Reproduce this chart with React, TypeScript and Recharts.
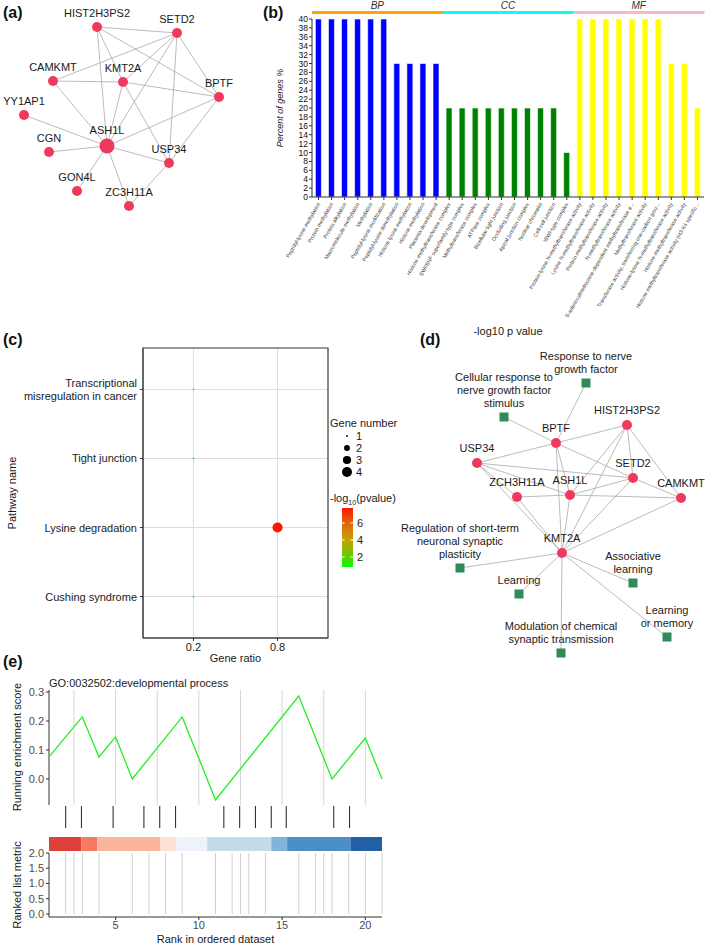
import React from "react";
import {
  BarChart,
  Bar,
  XAxis,
  YAxis,
  Cell,
  ScatterChart,
  Scatter,
  CartesianGrid,
  ReferenceArea,
  Label,
} from "recharts";

const FONT = "Arial, 'Liberation Sans', Helvetica, sans-serif";
const EDGE = "#aaaaaa";
const GENE_RED = "#ef3a5d";
const TERM_GREEN = "#2f8b5a";

// ---------- (a) PPI network (layout coordinates) ----------
const ppiNames = ["HIST2H3PS2", "SETD2", "CAMKMT", "KMT2A", "BPTF", "YY1AP1", "ASH1L", "CGN", "USP34", "GON4L", "ZC3H11A"];
const ppiX = [97, 177, 53, 123, 219, 24, 107, 49, 169, 77, 129];
const ppiY = [27, 33, 81, 82, 97, 115, 146, 152, 163, 191, 206];
const ppiEdges: [string, string][] = [
  ["HIST2H3PS2", "SETD2"], ["HIST2H3PS2", "KMT2A"], ["HIST2H3PS2", "ASH1L"], ["HIST2H3PS2", "BPTF"],
  ["CAMKMT", "SETD2"], ["CAMKMT", "KMT2A"], ["CAMKMT", "ASH1L"], ["KMT2A", "BPTF"],
  ["SETD2", "KMT2A"], ["SETD2", "ASH1L"], ["SETD2", "USP34"], ["SETD2", "BPTF"],
  ["KMT2A", "ASH1L"], ["KMT2A", "USP34"], ["BPTF", "ASH1L"], ["BPTF", "USP34"],
  ["ASH1L", "YY1AP1"], ["ASH1L", "CGN"], ["ASH1L", "GON4L"], ["ASH1L", "ZC3H11A"],
  ["ASH1L", "USP34"], ["USP34", "ZC3H11A"],
];

// ---------- (b) GO enrichment bars ----------
const bpTerms = [
  "Peptidyl-lysine methylation", "Protein methylation", "Protein alkylation", "Macromolecule methylation",
  "Methylation", "Peptidyl-lysine modification", "Peptidyl-lysine dimethylation", "Histone lysine methylation",
  "Histone methylation", "Placenta development",
];
const ccTerms = [
  "Histone methyltransferase complex", "SWI/SNF superfamily-type complex", "Methyltransferase complex",
  "ATPase complex", "Bicellular tight junction", "Occluding junction", "Apical junction complex",
  "Nuclear chromatin", "Cell-cell junction", "ISWI-type complex",
];
const mfTerms = [
  "Protein-lysine N-methyltransferase activity", "Lysine N-methyltransferase activity",
  "Protein methyltransferase activity", "N-methyltransferase activity",
  "S-adenosylmethionine-dependent methyltransferase a...", "Methyltransferase activity",
  "Transferase activity, transferring one-carbon grou...", "Histone-lysine N-methyltransferase activity",
  "Histone methyltransferase activity", "Histone methyltransferase activity (H3-K4 specific...",
];
const bpPercent = [40, 40, 40, 40, 40, 40, 30, 30, 30, 30];
const ccPercent = [20, 20, 20, 20, 20, 20, 20, 20, 20, 10];
const mfPercent = [40, 40, 40, 40, 40, 40, 40, 30, 30, 20];
const pctTicks = [0, 2, 4, 6, 8, 10, 12, 14, 16, 18, 20, 22, 24, 26, 28, 30, 32, 34, 36, 38, 40];

// ---------- (c) KEGG dot plot ----------
const keggPathways = ["Transcriptional\nmisregulation in cancer", "Tight junction", "Lysine degradation", "Cushing syndrome"];
const ratioLevels = ["0.2", "0.8"];
const keggRatio = ["0.2", "0.2", "0.8", "0.2"];
const keggCount = [1, 1, 4, 1];
const keggLogP = [0.85, 0.82, 7.76, 0.9];
const countLegend = [1, 2, 3, 4];
const logPTicks = [2, 4, 6];

// ---------- (d) gene - GO term network (layout coordinates) ----------
const netNames = [
  "resp", "cell", "HIST2H3PS2", "BPTF", "USP34", "SETD2", "ASH1L", "ZCH3H11A", "CAMKMT", "KMT2A",
  "reg", "assoc", "learn", "lom", "mod",
];
const netLabels = [
  "Response to nerve\ngrowth factor", "Cellular response to\nnerve growth factor\nstimulus", "HIST2H3PS2", "BPTF",
  "USP34", "SETD2", "ASH1L", "ZCH3H11A", "CAMKMT", "KMT2A",
  "Regulation of short-term\nneuronal synaptic\nplasticity", "Associative\nlearning", "Learning",
  "Learning\nor memory", "Modulation of chemical\nsynaptic transmission",
];
const netKind = ["term", "term", "gene", "gene", "gene", "gene", "gene", "gene", "gene", "gene", "term", "term", "term", "term", "term"];
const netX = [586, 504, 627, 556, 477, 633, 570, 517, 681, 562, 460, 633, 519, 667, 561];
const netY = [383, 417, 425, 443, 463, 478, 495, 497, 498, 553, 568, 583, 594, 637, 653];
const netEdges: [string, string][] = [
  ["resp", "BPTF"], ["cell", "BPTF"], ["BPTF", "HIST2H3PS2"], ["BPTF", "USP34"], ["BPTF", "SETD2"],
  ["BPTF", "ASH1L"], ["BPTF", "KMT2A"], ["HIST2H3PS2", "SETD2"], ["HIST2H3PS2", "CAMKMT"],
  ["HIST2H3PS2", "ASH1L"], ["HIST2H3PS2", "KMT2A"], ["USP34", "SETD2"], ["USP34", "ASH1L"],
  ["USP34", "ZCH3H11A"], ["USP34", "KMT2A"], ["SETD2", "ASH1L"], ["SETD2", "CAMKMT"], ["SETD2", "KMT2A"],
  ["ZCH3H11A", "ASH1L"], ["ASH1L", "CAMKMT"], ["ZCH3H11A", "KMT2A"], ["ASH1L", "KMT2A"], ["CAMKMT", "KMT2A"],
  ["KMT2A", "reg"], ["KMT2A", "learn"], ["KMT2A", "assoc"], ["KMT2A", "lom"], ["KMT2A", "mod"],
];

// ---------- (e) GSEA plot ----------
const esRank = [1, 3, 4, 5, 6, 9, 11, 16, 18, 20, 21];
const esScore = [0.076, 0.214, 0.076, 0.145, 0.0, 0.214, -0.072, 0.286, 0.0, 0.141, 0.0];
const esTicks = [0, 0.1, 0.2, 0.3];
const rankGrid = [2.5, 5, 7.5, 10, 12.5, 15, 17.5, 20];
const hitRanks = [2, 2.95, 4.85, 6.7, 7.65, 8.6, 11.5, 12.45, 13.4, 14.35, 15.25, 18.1, 19.05];
const heatBreaks = [1, 2.94, 3.9, 7.7, 8.65, 10.5, 14.35, 15.3, 19.1, 21];
const heatColors = ["#e0403a", "#f57a60", "#fcb59d", "#fde1d4", "#eef3fb", "#c4dbea", "#80b5d9", "#4a8fc5", "#2460a6"];
const metricRanks = [2, 2.5, 3, 4, 6, 7, 8, 9, 11, 12, 12.5, 13, 14, 16, 17, 17.5, 18, 19, 20, 21];
const metricValues = [2, 2, 2, 2, 2, 2, 2, 2, 2, 2, 2, 2, 2, 2, 2, 2, 2, 2, 2, 2];
const metricTicks = [0, 0.5, 1, 1.5, 2];
const rankTicks = [5, 10, 15, 20];

// ---------- derived tables ----------
const ppiDegree = (n: string) => ppiEdges.filter((e) => e[0] === n || e[1] === n).length;
const ppiNodes = ppiNames.map((n, i) => ({ name: n, label: n, kind: "gene", x: ppiX[i], y: ppiY[i], r: ppiDegree(n) >= 8 ? 7.5 : 5 }));
const netNodes = netNames.map((n, i) => ({ name: n, label: netLabels[i], kind: netKind[i], x: netX[i], y: netY[i], r: 5 }));

const goRows = [
  ...bpTerms.map((t, i) => ({ term: t, group: "BP", pct: bpPercent[i], mid: i === 4 })),
  ...ccTerms.map((t, i) => ({ term: t, group: "CC", pct: ccPercent[i], mid: i === 4 })),
  ...mfTerms.map((t, i) => ({ term: t, group: "MF", pct: mfPercent[i], mid: i === 4 })),
];
const barColor: Record<string, string> = { BP: "#0000ff", CC: "#008000", MF: "#ffff00" };
const stripColor: Record<string, string> = { BP: "#ffa500", CC: "#00ffff", MF: "#ffb6c1" };

const LP_MIN = Math.min(...keggLogP);
const LP_MAX = Math.max(...keggLogP);
const pStops: [number, number[]][] = [
  [0, [0, 255, 0]],
  [0.2, [110, 200, 0]],
  [0.47, [200, 160, 0]],
  [0.75, [228, 100, 10]],
  [1, [255, 20, 0]],
];
function lpColor(v: number) {
  const t = Math.max(0, Math.min(1, (v - LP_MIN) / (LP_MAX - LP_MIN)));
  for (let i = 1; i < pStops.length; i++) {
    if (t <= pStops[i][0]) {
      const [t0, c0] = pStops[i - 1];
      const [t1, c1] = pStops[i];
      const f = (t - t0) / (t1 - t0);
      const c = c0.map((a, k) => Math.round(a + (c1[k] - a) * f));
      return `rgb(${c[0]},${c[1]},${c[2]})`;
    }
  }
  return "rgb(255,20,0)";
}
const countR = (n: number) => 5 * Math.sqrt((n - 0.9) / 3.1);

const keggRows = keggPathways.map((p, i) => ({
  name: p,
  x: ratioLevels.indexOf(keggRatio[i]) + 1,
  y: i + 1,
  n: keggCount[i],
  lp: keggLogP[i],
}));

const ES_DOMAIN = [-0.0897, 0.3069];
const esPoints = esRank.map((r, i) => ({ x: r, y: esScore[i] }));

// ---------- shapes / ticks ----------
const emptyShape = () => <g />;

const makeNodeShape = (gap: number) => (props: any) => {
  const { cx, cy, payload } = props;
  const lines = String(payload.label).split("\n");
  const base = payload.kind === "term" ? cy - 10 : cy - payload.r - gap;
  return (
    <g>
      {payload.kind === "term" ? (
        <rect x={cx - 4.5} y={cy - 4.5} width={9} height={9} fill={TERM_GREEN} />
      ) : (
        <circle cx={cx} cy={cy} r={payload.r} fill={GENE_RED} />
      )}
      <text x={cx} y={base} textAnchor="middle" fontSize={11} fill="#1a1a1a">
        {lines.map((l, i) => (
          <tspan key={i} x={cx} y={base - (lines.length - 1 - i) * 13}>
            {l}
          </tspan>
        ))}
      </text>
    </g>
  );
};

// a two-point scatter drawn only as its connecting line
const seg = (key: any, pts: { x: number; y: number }[], stroke: string, width: number) => (
  <Scatter
    key={key}
    data={pts}
    line={{ stroke, strokeWidth: width, strokeLinecap: "butt" }}
    shape={emptyShape}
    isAnimationActive={false}
    legendType="none"
  />
);

function Network({ nodes, edges, x0, y0, w, h, gap }: any) {
  const byName: Record<string, any> = {};
  nodes.forEach((n: any) => (byName[n.name] = n));
  return (
    <ScatterChart width={w} height={h} margin={{ top: 0, right: 0, bottom: 0, left: 0 }}>
      <XAxis type="number" dataKey="x" domain={[x0, x0 + w]} hide />
      <YAxis type="number" dataKey="y" domain={[y0, y0 + h]} reversed hide />
      {edges.map(([a, b]: [string, string], i: number) => seg(i, [byName[a], byName[b]], EDGE, 0.8))}
      <Scatter data={nodes} shape={makeNodeShape(gap)} isAnimationActive={false} />
    </ScatterChart>
  );
}

const B_W = 439;
const B_YAXIS = 42;
const B_RIGHT = 5;
const B_BAND = (B_W - B_YAXIS - B_RIGHT) / goRows.length;

const StripTick = (props: any) => {
  const { x, y, payload } = props;
  const row = goRows.find((r) => r.term === payload.value);
  if (!row) return <g />;
  return (
    <g>
      <rect x={x - B_BAND / 2} y={y - 8} width={B_BAND + 0.5} height={3} fill={stripColor[row.group]} />
      {row.mid && (
        <text x={x + B_BAND / 2} y={y - 10} textAnchor="middle" fontSize={10} fontStyle="italic" fill="#333">
          {row.group}
        </text>
      )}
    </g>
  );
};

const GoTick = (props: any) => {
  const { x, y, payload } = props;
  return (
    <text x={x} y={y + 1} transform={`rotate(-60 ${x} ${y + 1})`} textAnchor="end" fontSize={5.3} fill="#333" dy={2}>
      {payload.value}
    </text>
  );
};

const PathwayTick = (props: any) => {
  const { x, y, payload } = props;
  const lines = keggPathways[payload.value - 1].split("\n");
  const first = y + 4 - ((lines.length - 1) * 13) / 2;
  return (
    <text x={x} y={first} textAnchor="end" fontSize={11} fill="#1a1a1a">
      {lines.map((l, i) => (
        <tspan key={i} x={x} y={first + i * 13}>
          {l}
        </tspan>
      ))}
    </text>
  );
};

const KeggDot = (props: any) => {
  const { cx, cy, payload } = props;
  return <circle cx={cx} cy={cy} r={countR(payload.n)} fill={lpColor(payload.lp)} />;
};

const axisTick = { fontSize: 11, fill: "#4d4d4d" };

export default function App() {
  const cbTop = 508;
  const cbH = 59;
  const cbY = (v: number) => cbTop + cbH - ((v - LP_MIN) / (LP_MAX - LP_MIN)) * cbH;
  return (
    <div
      style={{
        position: "absolute",
        left: 0,
        top: 0,
        width: 709,
        height: 945,
        background: "#fff",
        fontFamily: FONT,
        overflow: "hidden",
      }}
    >
      {/* (a) */}
      <div style={{ position: "absolute", left: 0, top: 0 }}>
        <Network nodes={ppiNodes} edges={ppiEdges} x0={0} y0={0} w={270} h={220} gap={5} />
      </div>

      {/* (b) */}
      <div style={{ position: "absolute", left: 270, top: 0 }}>
        <BarChart
          width={B_W}
          height={322}
          data={goRows}
          margin={{ top: 0, right: B_RIGHT, bottom: 0, left: 0 }}
          barCategoryGap="26%"
        >
          <XAxis
            xAxisId="strip"
            orientation="top"
            dataKey="term"
            height={19}
            interval={0}
            axisLine={false}
            tickLine={false}
            tickSize={0}
            tickMargin={0}
            tick={<StripTick />}
          />
          <XAxis
            dataKey="term"
            interval={0}
            height={125}
            tick={<GoTick />}
            tickSize={3}
            tickLine={{ stroke: "#333" }}
            axisLine={{ stroke: "#333" }}
          />
          <YAxis
            domain={[0, 40]}
            ticks={pctTicks}
            interval={0}
            width={B_YAXIS}
            tickSize={3}
            tickMargin={1}
            tick={{ fontSize: 8.5, fill: "#111" }}
            tickLine={{ stroke: "#333" }}
            axisLine={{ stroke: "#333" }}
          >
            <Label
              value="Percent of genes %"
              angle={-90}
              position="insideLeft"
              offset={10}
              style={{ textAnchor: "middle", fontStyle: "italic", fontSize: 9, fill: "#222" }}
            />
          </YAxis>
          <YAxis yAxisId="frame" orientation="right" width={0} tick={false} tickLine={false} axisLine={{ stroke: "#333" }} />
          <Bar dataKey="pct" isAnimationActive={false} stroke="#ffffff" strokeWidth={0.6}>
            {goRows.map((r, i) => (
              <Cell key={i} fill={barColor[r.group]} />
            ))}
          </Bar>
        </BarChart>
      </div>

      {/* (c) */}
      <div style={{ position: "absolute", left: 0, top: 340 }}>
        <ScatterChart width={330} height={330} margin={{ top: 8, right: 2, bottom: 0, left: 0 }}>
          <CartesianGrid stroke="#dcdcdc" />
          <XAxis
            type="number"
            dataKey="x"
            domain={[0.4, 2.6]}
            ticks={[1, 2]}
            tickFormatter={(v: number) => ratioLevels[v - 1]}
            height={32}
            tickSize={3}
            tickMargin={2}
            tick={{ fontSize: 11, fill: "#1a1a1a" }}
            tickLine={{ stroke: "#333" }}
            axisLine={{ stroke: "#444" }}
          >
            <Label value="Gene ratio" position="insideBottom" offset={8} style={{ fontSize: 11, fill: "#1a1a1a" }} />
          </XAxis>
          <YAxis
            type="number"
            dataKey="y"
            domain={[0.4, 4.6]}
            ticks={[1, 2, 3, 4]}
            reversed
            width={143}
            tickSize={3}
            tickMargin={3}
            tick={<PathwayTick />}
            tickLine={{ stroke: "#333" }}
            axisLine={{ stroke: "#444" }}
          >
            <Label
              value="Pathway name"
              angle={-90}
              position="insideLeft"
              offset={12}
              style={{ textAnchor: "middle", fontSize: 11, fill: "#1a1a1a" }}
            />
          </YAxis>
          <ReferenceArea x1={0.4} x2={2.6} y1={0.4} y2={4.6} fill="none" stroke="#444" strokeWidth={1.2} />
          <Scatter data={keggRows} shape={KeggDot} isAnimationActive={false} />
        </ScatterChart>
      </div>

      {/* (d) */}
      <div style={{ position: "absolute", left: 370, top: 330 }}>
        <Network nodes={netNodes} edges={netEdges} x0={370} y0={330} w={339} h={340} gap={6} />
      </div>

      {/* (e) running enrichment score */}
      <div style={{ position: "absolute", left: 0, top: 680 }}>
        <ScatterChart width={390} height={125} margin={{ top: 10, right: 8, bottom: 0, left: 0 }}>
          <XAxis type="number" dataKey="x" domain={[1, 21]} hide />
          <YAxis
            type="number"
            dataKey="y"
            domain={ES_DOMAIN}
            ticks={esTicks}
            interval={0}
            width={49}
            tickSize={3}
            tickMargin={2}
            tickFormatter={(v: number) => v.toFixed(1)}
            tick={axisTick}
            tickLine={{ stroke: "#333" }}
            axisLine={{ stroke: "#333" }}
          />
          {rankGrid.map((r, i) =>
            seg(`g${i}`, [{ x: r, y: ES_DOMAIN[0] }, { x: r, y: ES_DOMAIN[1] }], "#d6d6d6", 1)
          )}
          <Scatter
            data={esPoints}
            line={{ stroke: "#22ee22", strokeWidth: 1.3 }}
            shape={emptyShape}
            isAnimationActive={false}
          />
        </ScatterChart>
      </div>

      {/* (e) hits + rank heat strip */}
      <div style={{ position: "absolute", left: 0, top: 806 }}>
        <ScatterChart width={390} height={45} margin={{ top: 0, right: 8, bottom: 0, left: 49 }}>
          <XAxis type="number" dataKey="x" domain={[1, 21]} hide />
          <YAxis type="number" dataKey="y" domain={[0, 1]} hide />
          {heatColors.map((c, i) =>
            seg(`h${i}`, [{ x: heatBreaks[i], y: 0.155 }, { x: heatBreaks[i + 1], y: 0.155 }], c, 14)
          )}
          {hitRanks.map((r, i) => seg(`k${i}`, [{ x: r, y: 0.51 }, { x: r, y: 1 }], "#333", 1.1))}
        </ScatterChart>
      </div>

      {/* (e) ranked list metric */}
      <div style={{ position: "absolute", left: 0, top: 845 }}>
        <ScatterChart width={390} height={100} margin={{ top: 8, right: 8, bottom: 0, left: 0 }}>
          <XAxis
            type="number"
            dataKey="x"
            domain={[1, 21]}
            ticks={rankTicks}
            height={28}
            tickSize={3}
            tickMargin={1}
            tick={axisTick}
            tickLine={{ stroke: "#333" }}
            axisLine={{ stroke: "#333" }}
          >
            <Label value="Rank in ordered dataset" position="insideBottom" offset={2} style={{ fontSize: 11, fill: "#1a1a1a" }} />
          </XAxis>
          <YAxis
            type="number"
            dataKey="y"
            domain={[-0.1, 2]}
            ticks={metricTicks}
            interval={0}
            width={49}
            tickSize={3}
            tickMargin={2}
            tickFormatter={(v: number) => v.toFixed(1)}
            tick={axisTick}
            tickLine={{ stroke: "#333" }}
            axisLine={{ stroke: "#333" }}
          />
          {metricRanks.map((r, i) => seg(`m${i}`, [{ x: r, y: 0 }, { x: r, y: metricValues[i] }], "#cfcfcf", 1))}
        </ScatterChart>
      </div>

      {/* free text, legends */}
      <svg width={709} height={945} style={{ position: "absolute", left: 0, top: 0, pointerEvents: "none" }}>
        <defs>
          <linearGradient id="lpGrad" x1="0" y1="1" x2="0" y2="0">
            {pStops.map(([t], i) => (
              <stop key={i} offset={`${t * 100}%`} stopColor={lpColor(LP_MIN + t * (LP_MAX - LP_MIN))} />
            ))}
          </linearGradient>
        </defs>
        <g fontFamily={FONT} fontWeight="bold" fontSize={16} fill="#111">
          <text x={3} y={18}>(a)</text>
          <text x={263} y={18}>(b)</text>
          <text x={3} y={345}>(c)</text>
          <text x={420} y={345}>(d)</text>
          <text x={3} y={667}>(e)</text>
        </g>
        <g fontFamily={FONT} fontSize={11} fill="#1a1a1a">
          <text x={508} y={335} textAnchor="middle">-log10 p value</text>
          <text x={49} y={687}>GO:0032502:developmental process</text>
          <text x={21} y={747} textAnchor="middle" transform="rotate(-90 21 747)">Running enrichment score</text>
          <text x={21} y={885} textAnchor="middle" transform="rotate(-90 21 885)">Ranked list metric</text>
          <text x={330} y={427}>Gene number</text>
          {countLegend.map((n, i) => (
            <g key={n}>
              <circle cx={347} cy={436 + i * 12} r={countR(n)} fill="#000" />
              <text x={356} y={440 + i * 12}>{n}</text>
            </g>
          ))}
          <text x={330} y={502}>
            -log
            <tspan fontSize={7} dy={3}>10</tspan>
            <tspan dy={-3}>(pvalue)</tspan>
          </text>
          <rect x={342} y={cbTop} width={11} height={cbH} fill="url(#lpGrad)" />
          {logPTicks.map((v) => (
            <g key={v}>
              <line x1={342} x2={344.5} y1={cbY(v)} y2={cbY(v)} stroke="#fff" strokeWidth={1} />
              <line x1={350.5} x2={353} y1={cbY(v)} y2={cbY(v)} stroke="#fff" strokeWidth={1} />
              <text x={357} y={cbY(v) + 4}>{v}</text>
            </g>
          ))}
        </g>
      </svg>
    </div>
  );
}
